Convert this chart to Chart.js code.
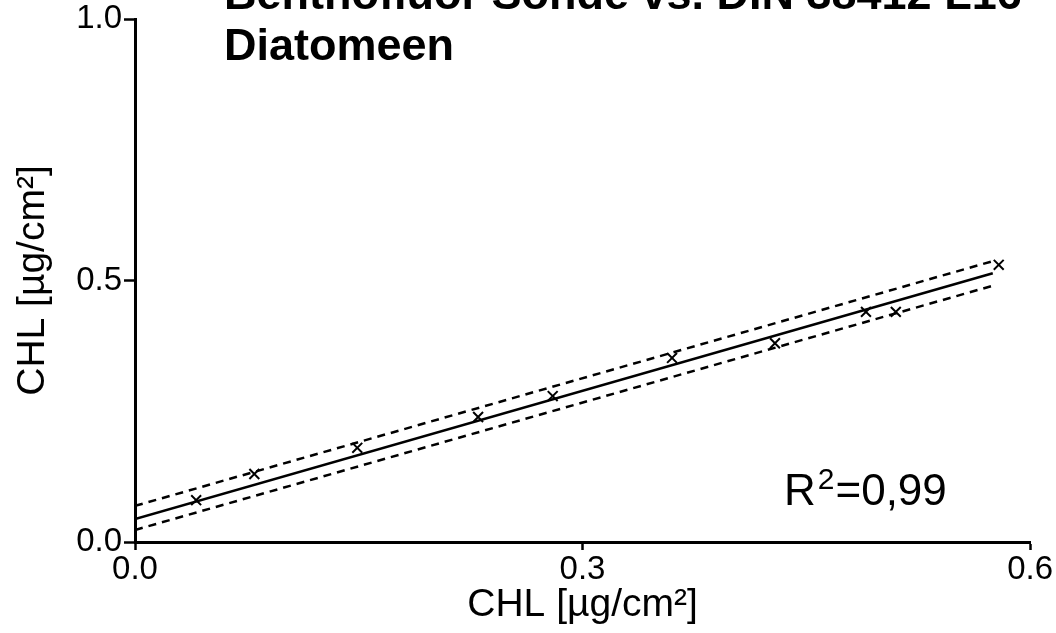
<!DOCTYPE html>
<html>
<head>
<meta charset="utf-8">
<title>Diatomeen</title>
<script src="https://cdn.jsdelivr.net/npm/chart.js@4"></script>
<style>
  html, body { margin: 0; padding: 0; background: #fff; }
  #wrap { width: 1056px; height: 633px; }
</style>
</head>
<body>
<div id="wrap"><canvas id="myChart"></canvas></div>
<script>
// measured pairs: sonde vs. reference method
const sondeX = [0.041, 0.080, 0.149, 0.230, 0.280, 0.360, 0.429, 0.490, 0.510, 0.579];
const labY   = [0.080, 0.130, 0.180, 0.239, 0.279, 0.352, 0.380, 0.440, 0.440, 0.530];

// regression line and 95% band, start and end of each
const fitX   = [0, 0.575];
const fitY   = [0.044, 0.514];
const upperY = [0.069, 0.537];
const lowerY = [0.023, 0.490];

const xTicks = ['0.0', '0.3', '0.6'];
const yTicks = ['0.0', '0.5', '1.0'];

const titleLines = ['Benthofluor Sonde vs. DIN 38412 L16', 'Diatomeen'];
const r2Text = '0,99';

const pairs = (xs, ys) => xs.map((x, i) => ({x: x, y: ys[i]}));

const FONT = '"Liberation Sans", Arial, sans-serif';

const textPlugin = {
  id: 'texts',
  afterDraw(chart) {
    const c = chart.ctx;
    c.save();
    c.fillStyle = '#000';
    c.textBaseline = 'alphabetic';
    c.textAlign = 'left';
    c.font = 'bold 45px ' + FONT;
    c.fillText(titleLines[0], 224, 9);
    c.fillText(titleLines[1], 224, 60);

    // R² label
    c.font = '44px ' + FONT;
    let x = 784;
    c.fillText('R', x, 505);
    x += c.measureText('R').width + 2;
    c.font = '30px ' + FONT;
    c.fillText('2', x, 489);
    x += c.measureText('2').width + 1;
    c.font = '44px ' + FONT;
    c.fillText('=' + r2Text, x, 505);
    c.restore();
  }
};

const ctx = document.getElementById('myChart');

new Chart(ctx, {
  type: 'scatter',
  data: {
    datasets: [{
      label: 'Messwerte',
      data: pairs(sondeX, labY),
      pointStyle: 'crossRot',
      pointRadius: 7,
      borderColor: '#000',
      borderWidth: 2
    }, {
      label: 'Regression',
      data: pairs(fitX, fitY),
      showLine: true,
      pointRadius: 0,
      borderColor: '#000',
      borderWidth: 2.5
    }, {
      label: 'oben',
      data: pairs(fitX, upperY),
      showLine: true,
      pointRadius: 0,
      borderColor: '#000',
      borderWidth: 2.5,
      borderDash: [8, 6]
    }, {
      label: 'unten',
      data: pairs(fitX, lowerY),
      showLine: true,
      pointRadius: 0,
      borderColor: '#000',
      borderWidth: 2.5,
      borderDash: [8, 6]
    }]
  },
  options: {
    responsive: true,
    maintainAspectRatio: false,
    animation: false,
    layout: { padding: { top: 19, right: 25, left: 0, bottom: 0 } },
    plugins: {
      legend: { display: false },
      tooltip: { enabled: false }
    },
    scales: {
      x: {
        min: 0,
        max: 0.6,
        afterFit: s => { s.height = 91; },
        afterBuildTicks: s => { s.ticks = [0, 0.3, 0.6].map(v => ({value: v})); },
        ticks: {
          color: '#000',
          padding: 3,
          maxRotation: 0,
          font: { family: FONT, size: 33, lineHeight: 1 },
          callback: (v, i) => xTicks[i]
        },
        grid: { drawOnChartArea: false, tickLength: 8, tickWidth: 2.5, tickColor: '#000' },
        border: { color: '#000', width: 3 },
        title: {
          display: true,
          text: 'CHL [µg/cm²]',
          color: '#000',
          padding: { top: 0, bottom: 4 },
          font: { family: FONT, size: 39, lineHeight: 1.2 }
        }
      },
      y: {
        min: 0,
        max: 1,
        afterFit: s => { s.width = 135; },
        afterBuildTicks: s => { s.ticks = [0, 0.5, 1].map(v => ({value: v})); },
        ticks: {
          color: '#000',
          padding: 2,
          font: { family: FONT, size: 33, lineHeight: 1 },
          callback: (v, i) => yTicks[i]
        },
        grid: { drawOnChartArea: false, tickLength: 11, tickWidth: 2.5, tickColor: '#000' },
        border: { color: '#000', width: 3 },
        title: {
          display: true,
          text: 'CHL [µg/cm²]',
          color: '#000',
          padding: { top: 10, bottom: 0 },
          font: { family: FONT, size: 39, lineHeight: 1.2 }
        }
      }
    }
  },
  plugins: [textPlugin]
});
</script>
</body>
</html>
